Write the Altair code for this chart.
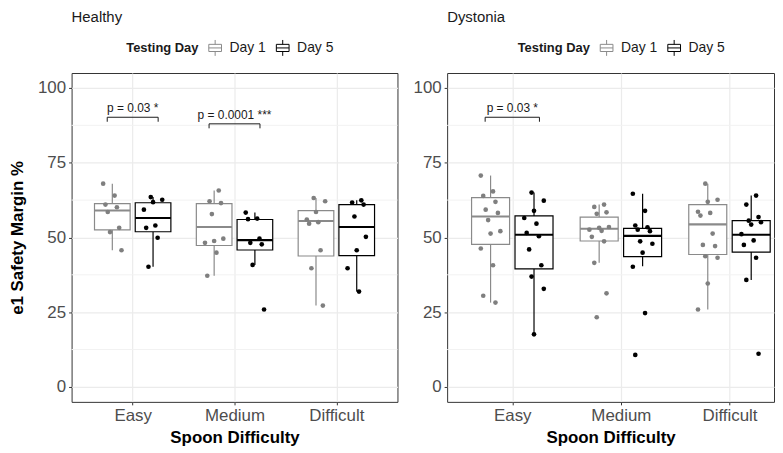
import altair as alt
import pandas as pd

categories = ["Easy", "Medium", "Difficult"]
days = ["Day 1", "Day 5"]

healthy_easy_day1 = [68.0, 64.0, 61.0, 60.1, 58.5, 53.2, 51.8, 45.7]
healthy_easy_day5 = [63.5, 62.6, 61.8, 59.3, 54.0, 53.2, 49.9, 40.2]
healthy_medium_day1 = [65.7, 62.1, 61.5, 57.8, 49.6, 48.8, 48.2, 44.9, 37.2]
healthy_medium_day5 = [58.3, 56.3, 56.1, 49.6, 48.2, 47.7, 40.8, 25.9]
healthy_difficult_day1 = [63.2, 62.1, 58.5, 56.0, 55.1, 54.6, 45.7, 39.7, 27.2]
healthy_difficult_day5 = [62.4, 61.7, 61.0, 57.0, 50.2, 45.7, 39.7, 31.9]
dystonia_easy_day1 = [70.7, 65.4, 63.9, 61.9, 59.3, 58.2, 55.8, 52.1, 51.3, 46.3, 40.7, 30.5, 28.2]
dystonia_easy_day5 = [65.0, 62.3, 58.9, 56.5, 54.6, 51.5, 50.4, 46.0, 40.7, 36.9, 32.8, 17.6]
dystonia_medium_day1 = [61.0, 60.2, 58.4, 57.9, 53.5, 53.2, 52.6, 52.2, 50.2, 48.7, 41.5, 31.3, 23.3]
dystonia_medium_day5 = [64.6, 58.9, 54.0, 53.4, 52.6, 52.1, 48.7, 47.9, 44.9, 40.2, 24.7, 10.7]
dystonia_difficult_day1 = [68.0, 62.6, 61.9, 58.6, 58.2, 57.3, 51.3, 47.5, 47.1, 43.7, 43.2, 34.6, 25.9]
dystonia_difficult_day5 = [64.0, 61.0, 56.8, 55.6, 55.1, 54.3, 51.1, 49.0, 47.5, 43.2, 35.8, 11.1]

# box statistics, order: Easy D1, Easy D5, Medium D1, Medium D5, Difficult D1, Difficult D5
healthy_lower = [45.7, 40.2, 37.2, 40.8, 27.2, 31.9]
healthy_q1 = [52.5, 51.9, 47.3, 45.8, 43.8, 43.9]
healthy_median = [59.0, 56.5, 53.5, 49.1, 55.5, 53.5]
healthy_q3 = [61.3, 61.6, 61.3, 56.0, 59.0, 61.0]
healthy_upper = [68.0, 63.5, 65.7, 58.3, 63.2, 62.4]

dystonia_lower = [28.2, 17.6, 41.5, 40.4, 25.9, 35.8]
dystonia_q1 = [47.7, 39.5, 48.8, 43.6, 44.3, 45.1]
dystonia_median = [57.0, 50.9, 52.9, 50.5, 54.4, 50.9]
dystonia_q3 = [63.3, 57.2, 56.8, 53.0, 61.0, 55.6]
dystonia_upper = [70.7, 65.0, 61.0, 64.6, 68.0, 64.0]

# significance brackets
healthy_bracket_cats = ["Easy", "Medium"]
healthy_bracket_y = [90.2, 88.0]
healthy_bracket_labels = ["p = 0.03 *", "p = 0.0001 ***"]
dystonia_bracket_cats = ["Easy"]
dystonia_bracket_y = [90.2]
dystonia_bracket_labels = ["p = 0.03 *"]

minor_grid = [12.5, 37.5, 62.5, 87.5]

GRAY = "#8A8A8A"
FONT = "Liberation Sans"
DODGE = 0.2
HALF_BOX = 0.175
JIT = 0.09


def build_tables(point_lists, lower, q1, med, q3, upper, bcats, by, blabels):
    box_rows = []
    pt_rows = []
    k = 0
    for ci, cat in enumerate(categories):
        for di, day in enumerate(days):
            xc = ci + 1 + (-DODGE if di == 0 else DODGE)
            box_rows.append(dict(cat=cat, day=day, xc=xc, x0=xc - HALF_BOX, x1=xc + HALF_BOX,
                                 lower=lower[k], q1=q1[k], median=med[k], q3=q3[k], upper=upper[k]))
            for i, v in enumerate(point_lists[k]):
                j = (((i * 5 + k * 3) % 9) / 8.0 - 0.5) * 2 * JIT
                pt_rows.append(dict(cat=cat, day=day, xp=xc + j, value=v))
            k += 1
    br_rows = []
    for cat, yv, lab in zip(bcats, by, blabels):
        c = categories.index(cat) + 1
        br_rows.append(dict(label=lab, xa=c - 0.25, xb=c + 0.25, xm=c, y=yv, ylo=yv - 1.5, yt=yv + 0.6))
    return pd.DataFrame(box_rows), pd.DataFrame(pt_rows), pd.DataFrame(br_rows)


legend_symbol = "M-0.8,-0.45H0.8V0.45H-0.8Z M-0.8,0H0.8 M0,-1V-0.45 M0,0.45V1"


def panel(title, ytitle, width, x_max, legend_x, tables):
    box_df, pt_df, br_df = tables
    x_scale = alt.Scale(domain=[0.4, x_max], nice=False, zero=False)
    x_axis = alt.Axis(values=[1, 2, 3], labelExpr="['', 'Easy', 'Medium', 'Difficult'][datum.value]",
                      title="Spoon Difficulty", grid=True)
    y_scale = alt.Scale(domain=[-5, 105], nice=False, zero=False)
    y_axis = alt.Axis(values=[0, 25, 50, 75, 100], title=ytitle, grid=True)
    stroke_scale = alt.Scale(domain=days, range=[GRAY, "#000000"])
    legend = alt.Legend(
        title="Testing Day", orient="none", legendX=legend_x, legendY=-34,
        direction="horizontal", titleOrient="left", symbolType=legend_symbol,
        symbolSize=256, symbolFillColor="white", symbolStrokeWidth=1,
        labelFontSize=14, labelFont=FONT, labelColor="#1A1A1A",
        titleFontSize=13, titleFont=FONT, titleFontWeight="bold", titleColor="#1A1A1A",
        titlePadding=8, columnPadding=8, labelOffset=6)
    stroke_enc = alt.Stroke("day:N", scale=stroke_scale, legend=legend)

    minor = alt.Chart(pd.DataFrame({"v": minor_grid})).mark_rule(color="#F2F2F2", strokeWidth=1).encode(
        y=alt.Y("v:Q", scale=y_scale, axis=y_axis)
    )
    base = alt.Chart(box_df)
    whisk_lo = base.mark_rule(strokeWidth=1.2).encode(
        x=alt.X("xc:Q", scale=x_scale, axis=x_axis),
        y=alt.Y("lower:Q", scale=y_scale, axis=y_axis), y2="q1:Q",
        stroke=stroke_enc,
    )
    whisk_hi = base.mark_rule(strokeWidth=1.2).encode(
        x=alt.X("xc:Q", scale=x_scale, axis=x_axis),
        y=alt.Y("q3:Q", scale=y_scale, axis=y_axis), y2="upper:Q",
        stroke=stroke_enc,
    )
    boxes = base.mark_rect(fill="white", strokeWidth=1.2).encode(
        x=alt.X("x0:Q", scale=x_scale, axis=x_axis), x2="x1:Q",
        y=alt.Y("q1:Q", scale=y_scale, axis=y_axis), y2="q3:Q",
        stroke=stroke_enc,
    )
    medians = base.mark_rule(strokeWidth=2.2).encode(
        x=alt.X("x0:Q", scale=x_scale, axis=x_axis), x2="x1:Q",
        y=alt.Y("median:Q", scale=y_scale, axis=y_axis),
        stroke=stroke_enc,
    )
    points = alt.Chart(pt_df).mark_circle(size=22, opacity=1).encode(
        x=alt.X("xp:Q", scale=x_scale, axis=x_axis),
        y=alt.Y("value:Q", scale=y_scale, axis=y_axis),
        color=alt.Color("day:N", scale=alt.Scale(domain=days, range=["#7F7F7F", "#000000"]), legend=None),
    )
    bbase = alt.Chart(br_df)
    br_h = bbase.mark_rule(color="#1A1A1A", strokeWidth=1).encode(
        x=alt.X("xa:Q", scale=x_scale, axis=x_axis), x2="xb:Q",
        y=alt.Y("y:Q", scale=y_scale, axis=y_axis),
    )
    br_l = bbase.mark_rule(color="#1A1A1A", strokeWidth=1).encode(
        x=alt.X("xa:Q", scale=x_scale, axis=x_axis),
        y=alt.Y("y:Q", scale=y_scale, axis=y_axis), y2="ylo:Q",
    )
    br_r = bbase.mark_rule(color="#1A1A1A", strokeWidth=1).encode(
        x=alt.X("xb:Q", scale=x_scale, axis=x_axis),
        y=alt.Y("y:Q", scale=y_scale, axis=y_axis), y2="ylo:Q",
    )
    br_t = bbase.mark_text(baseline="bottom", align="center", fontSize=12, font=FONT, color="#1A1A1A").encode(
        x=alt.X("xm:Q", scale=x_scale, axis=x_axis),
        y=alt.Y("yt:Q", scale=y_scale, axis=y_axis),
        text="label:N",
    )
    return alt.layer(minor, whisk_lo, whisk_hi, boxes, medians, points, br_h, br_l, br_r, br_t).resolve_scale(
        stroke="shared", color="independent"
    ).properties(
        width=width, height=331,
        title=alt.TitleParams(title, anchor="start", frame="group", fontSize=15, fontWeight="normal",
                              font=FONT, color="#1A1A1A", offset=14),
    )


healthy = panel(
    "Healthy", "e1 Safety Margin %", 328, 3.6, 55,
    build_tables([healthy_easy_day1, healthy_easy_day5, healthy_medium_day1, healthy_medium_day5,
                  healthy_difficult_day1, healthy_difficult_day5],
                 healthy_lower, healthy_q1, healthy_median, healthy_q3, healthy_upper,
                 healthy_bracket_cats, healthy_bracket_y, healthy_bracket_labels),
)
dystonia = panel(
    "Dystonia", None, 329, 3.41, 71,
    build_tables([dystonia_easy_day1, dystonia_easy_day5, dystonia_medium_day1, dystonia_medium_day5,
                  dystonia_difficult_day1, dystonia_difficult_day5],
                 dystonia_lower, dystonia_q1, dystonia_median, dystonia_q3, dystonia_upper,
                 dystonia_bracket_cats, dystonia_bracket_y, dystonia_bracket_labels),
)

chart = alt.hconcat(healthy, dystonia, spacing=14, padding=0).resolve_scale(
    stroke="independent", color="independent"
).resolve_legend(stroke="independent").configure_view(
    stroke="#333333", strokeWidth=1
).configure_axis(
    domain=False, tickColor="#333333", tickSize=3, tickWidth=1,
    labelColor="#4D4D4D", labelFont=FONT, labelFontSize=17, labelPadding=3,
    titleFont=FONT, titleFontSize=17, titleFontWeight="bold", titleColor="#000000",
    gridColor="#EBEBEB", gridWidth=1.2,
).configure_axisY(titlePadding=11).configure_axisX(titlePadding=6)

chart.save("out.html", embed_options={"renderer": "svg", "actions": False})
